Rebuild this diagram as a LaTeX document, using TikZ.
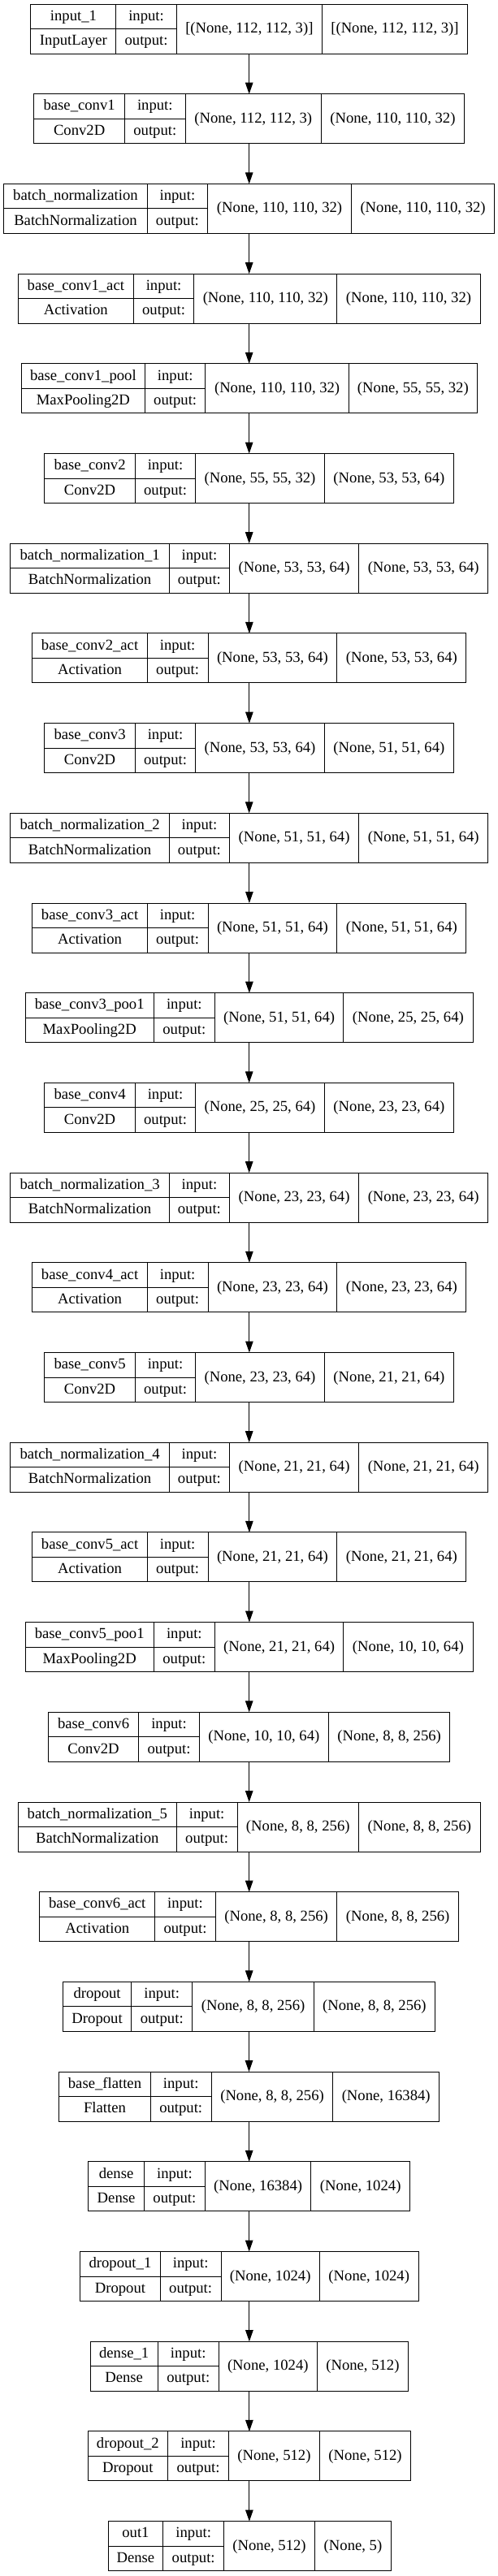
\documentclass[tikz,border=0pt]{standalone}
\usepackage{fontspec}
\setmainfont{Liberation Serif}
\usetikzlibrary{arrows.meta}
\tikzset{
  recbox/.style={draw=black, line width=1pt, inner sep=0pt, outer sep=0pt, minimum height=61pt, anchor=north west},
  sepline/.style={draw=black, line width=1pt},
  lbl/.style={inner sep=0pt, anchor=base, font=\fontsize{18.67}{22}\selectfont},
  flow/.style={draw=black, line width=1pt, -{Triangle[length=14pt,width=9.5pt]}},
}
\newcommand\LSetX[5]{\def\LXa{#1}\def\LXb{#2}\def\LXc{#3}\def\LXd{#4}\def\LXe{#5}}
\newcommand\LLayer[6]{%
  \pgfmathsetmacro\LYt{5+#2*110.7}%
  \pgfmathsetmacro\LYm{\LYt+30.5}%
  \pgfmathsetmacro\LYb{\LYt+61}%
  \pgfmathsetmacro\LBw{(\LXe-\LXa)*0.39144}%
  \node[recbox, minimum width=\LBw pt] (#1) at (\LXa,\LYt) {};
  \draw[sepline] (\LXb,\LYt) -- (\LXb,\LYb) (\LXc,\LYt) -- (\LXc,\LYb) (\LXd,\LYt) -- (\LXd,\LYb) (\LXa,\LYm) -- (\LXc,\LYm);
  \node[lbl] (#1-name) at ({(\LXa+\LXb)/2},\LYt+20.25) {#3};
  \node[lbl] (#1-class) at ({(\LXa+\LXb)/2},\LYt+50.75) {#4};
  \node[lbl] (#1-inl) at ({(\LXb+\LXc)/2},\LYt+20.25) {input:};
  \node[lbl] (#1-outl) at ({(\LXb+\LXc)/2},\LYt+50.75) {output:};
  \node[lbl] (#1-in) at ({(\LXc+\LXd)/2},\LYt+35.5) {#5};
  \node[lbl] (#1-out) at ({(\LXd+\LXe)/2},\LYt+35.5) {#6};
}
\begin{document}
\begin{tikzpicture}[x=0.39144pt, y=-1pt]
\fill[white] (0,0) rectangle (1566,3172);
\useasboundingbox (0,0) rectangle (1566,3172);
\LSetX{97}{365}{555}{1013}{1470}\LLayer{l1}{0}{input\_1}{InputLayer}{[(None, 112, 112, 3)]}{[(None, 112, 112, 3)]}
\LSetX{107}{392}{583}{1010}{1460}\LLayer{l2}{1}{base\_conv1}{Conv2D}{(None, 112, 112, 3)}{(None, 110, 110, 32)}
\LSetX{12}{463}{653}{1105}{1555}\LLayer{l3}{2}{batch\_normalization}{BatchNormalization}{(None, 110, 110, 32)}{(None, 110, 110, 32)}
\LSetX{57}{420}{610}{1060}{1510}\LLayer{l4}{3}{base\_conv1\_act}{Activation}{(None, 110, 110, 32)}{(None, 110, 110, 32)}
\LSetX{67}{456}{646}{1097}{1500}\LLayer{l5}{4}{base\_conv1\_pool}{MaxPooling2D}{(None, 110, 110, 32)}{(None, 55, 55, 32)}
\LSetX{140}{425}{615}{1020}{1427}\LLayer{l6}{5}{base\_conv2}{Conv2D}{(None, 55, 55, 32)}{(None, 53, 53, 64)}
\LSetX{33}{532}{722}{1128}{1535}\LLayer{l7}{6}{batch\_normalization\_1}{BatchNormalization}{(None, 53, 53, 64)}{(None, 53, 53, 64)}
\LSetX{102}{463}{654}{1060}{1466}\LLayer{l8}{7}{base\_conv2\_act}{Activation}{(None, 53, 53, 64)}{(None, 53, 53, 64)}
\LSetX{140}{425}{615}{1020}{1427}\LLayer{l9}{8}{base\_conv3}{Conv2D}{(None, 53, 53, 64)}{(None, 51, 51, 64)}
\LSetX{33}{532}{722}{1128}{1535}\LLayer{l10}{9}{batch\_normalization\_2}{BatchNormalization}{(None, 51, 51, 64)}{(None, 51, 51, 64)}
\LSetX{102}{463}{654}{1060}{1466}\LLayer{l11}{10}{base\_conv3\_act}{Activation}{(None, 51, 51, 64)}{(None, 51, 51, 64)}
\LSetX{80}{483}{676}{1080}{1487}\LLayer{l12}{11}{base\_conv3\_poo1}{MaxPooling2D}{(None, 51, 51, 64)}{(None, 25, 25, 64)}
\LSetX{140}{425}{615}{1020}{1427}\LLayer{l13}{12}{base\_conv4}{Conv2D}{(None, 25, 25, 64)}{(None, 23, 23, 64)}
\LSetX{33}{532}{722}{1128}{1535}\LLayer{l14}{13}{batch\_normalization\_3}{BatchNormalization}{(None, 23, 23, 64)}{(None, 23, 23, 64)}
\LSetX{102}{463}{654}{1060}{1466}\LLayer{l15}{14}{base\_conv4\_act}{Activation}{(None, 23, 23, 64)}{(None, 23, 23, 64)}
\LSetX{140}{425}{615}{1020}{1427}\LLayer{l16}{15}{base\_conv5}{Conv2D}{(None, 23, 23, 64)}{(None, 21, 21, 64)}
\LSetX{33}{532}{722}{1128}{1535}\LLayer{l17}{16}{batch\_normalization\_4}{BatchNormalization}{(None, 21, 21, 64)}{(None, 21, 21, 64)}
\LSetX{102}{463}{654}{1060}{1466}\LLayer{l18}{17}{base\_conv5\_act}{Activation}{(None, 21, 21, 64)}{(None, 21, 21, 64)}
\LSetX{80}{483}{676}{1080}{1487}\LLayer{l19}{18}{base\_conv5\_poo1}{MaxPooling2D}{(None, 21, 21, 64)}{(None, 10, 10, 64)}
\LSetX{152}{436}{627}{1033}{1415}\LLayer{l20}{19}{base\_conv6}{Conv2D}{(None, 10, 10, 64)}{(None, 8, 8, 256)}
\LSetX{57}{555}{746}{1128}{1510}\LLayer{l21}{20}{batch\_normalization\_5}{BatchNormalization}{(None, 8, 8, 256)}{(None, 8, 8, 256)}
\LSetX{125}{487}{678}{1060}{1442}\LLayer{l22}{21}{base\_conv6\_act}{Activation}{(None, 8, 8, 256)}{(None, 8, 8, 256)}
\LSetX{198}{413}{605}{987}{1368}\LLayer{l23}{22}{dropout}{Dropout}{(None, 8, 8, 256)}{(None, 8, 8, 256)}
\LSetX{186}{473}{665}{1047}{1381}\LLayer{l24}{23}{base\_flatten}{Flatten}{(None, 8, 8, 256)}{(None, 16384)}
\LSetX{278}{453}{645}{978}{1289}\LLayer{l25}{24}{dense}{Dense}{(None, 16384)}{(None, 1024)}
\LSetX{252}{504}{695}{1005}{1316}\LLayer{l26}{25}{dropout\_1}{Dropout}{(None, 1024)}{(None, 1024)}
\LSetX{284}{496}{688}{997}{1284}\LLayer{l27}{26}{dense\_1}{Dense}{(None, 1024)}{(None, 512)}
\LSetX{276}{528}{719}{1005}{1292}\LLayer{l28}{27}{dropout\_2}{Dropout}{(None, 512)}{(None, 512)}
\LSetX{340}{513}{704}{990}{1230}\LLayer{l29}{28}{out1}{Dense}{(None, 512)}{(None, 5)}
\foreach \a/\b in {l1/l2,l2/l3,l3/l4,l4/l5,l5/l6,l6/l7,l7/l8,l8/l9,l9/l10,l10/l11,l11/l12,l12/l13,l13/l14,l14/l15,l15/l16,l16/l17,l17/l18,l18/l19,l19/l20,l20/l21,l21/l22,l22/l23,l23/l24,l24/l25,l25/l26,l26/l27,l27/l28,l28/l29}
  \draw[flow] (\a.south) -- (\a.south |- \b.north);
\end{tikzpicture}
\end{document}
